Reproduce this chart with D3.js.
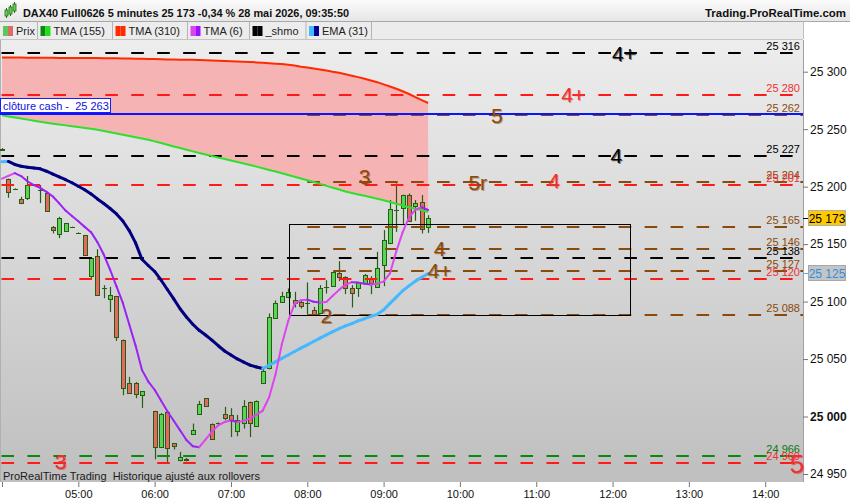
<!DOCTYPE html>
<html><head><meta charset="utf-8">
<script src="https://cdn.jsdelivr.net/npm/d3@7/dist/d3.min.js"></script>
<style>
body{margin:0;background:#fff;}
svg{display:block;font-family:"Liberation Sans",Arial,sans-serif;}
</style>
</head><body>
<svg id="c" width="850" height="500"></svg>
<script>
// ---------------- DATA ----------------
const titleText = "DAX40 Full0626 5 minutes 25 173 -0,34 % 28 mai 2026, 09:35:50";
const siteText = "Trading.ProRealTime.com";
const footText = "ProRealTime Trading  Historique ajusté aux rollovers";
const legendNames = ["Prix", "TMA (155)", "TMA (310)", "TMA (6)", "_shmo", "EMA (31)"];
const firstBar = "04:00";
const barMinutes = 5;
const opens = [25231.6,25206.3,25198.0,25189.2,25190.0,null,25197.4,25194.7,25164.5,25158.7,
  25161.6,25164.8,25159.8,25157.8,25122.1,25139.6,25112.1,25101.9,25104.7,25067.0,
  25029.3,25029.6,25019.1,null,25004.6,24973.5,25004.0,24976.8,24962.0,24963.0,
  24984.6,25002.6,25015.7,24993.9,24994.4,25002.6,25001.1,24987.2,24994.4,25012.7,
  24991.6,25029.6,25041.8,25085.3,25099.8,25104.1,25101.2,25099.8,25098.9,25092.5,
  25089.7,25112.8,25113.4,25124.5,25121.5,25111.4,25111.4,25116.3,25120.0,25112.8,
  25131.7,25151.1,25179.6,25181.1,25192.7,25183.1,25186.8,25164.5];
const highs = [25233.5,25207.0,25198.5,25191.2,25209.2,null,25201.4,25195.0,25165.7,25173.8,
  25168.5,25165.2,25160.2,25158.0,25138.0,25145.6,25114.3,25112.8,25105.0,25067.0,
  25034.5,25030.0,25022.0,null,25005.0,25003.0,25004.5,24977.0,24969.2,24964.0,
  24993.9,25013.6,25016.0,24994.0,24994.8,25008.4,25007.2,25001.4,25014.2,25013.0,
  25014.0,25043.2,25089.7,25101.0,25108.5,25111.4,25108.5,25100.6,25116.7,25095.4,
  25114.3,25118.6,25126.0,25135.2,25122.0,25114.3,25117.0,25124.0,25122.1,25143.3,
  25162.2,25188.3,25202.8,25193.0,25194.0,25188.3,25192.7,25175.2];
const lows = [25231.0,25190.3,25197.5,25184.8,25188.3,null,25185.7,25178.5,25159.3,25155.2,
  25161.0,25164.4,25159.4,25140.0,25120.3,25105.0,25102.9,25091.0,25065.8,25018.5,
  25020.5,25016.0,25007.5,null,24962.8,24973.0,24960.5,24971.3,24961.0,24961.0,
  24984.0,25002.0,25008.5,24980.0,24994.0,24996.7,24982.2,24982.8,24989.5,24982.2,
  24991.0,25029.0,25041.0,25085.0,25099.5,25103.0,25094.9,25094.0,25089.0,25088.2,
  25089.0,25107.0,25113.0,25117.8,25106.5,25094.9,25104.1,25116.0,25106.5,25112.0,
  25113.4,25150.0,25160.7,25166.5,25170.0,25170.3,25159.3,25159.8];
const closes = [25233.0,25195.5,25198.0,25185.7,25201.8,null,25197.4,25179.0,25162.2,25172.6,
  25168.3,25164.8,25159.8,25140.4,25137.8,25105.6,25112.1,25105.6,25069.3,25024.4,
  25020.9,25020.0,25022.0,null,24973.5,25002.0,24973.0,24974.2,24964.8,24962.0,
  24988.7,25010.7,25009.0,24980.8,24994.4,24999.1,24996.7,24997.4,25009.0,24994.4,
  25013.6,25039.4,25086.2,25099.2,25104.7,25108.0,25098.9,25096.0,25098.9,25089.0,
  25111.4,25112.8,25125.4,25121.5,25111.4,25107.6,25116.7,25122.7,25116.3,25128.8,
  25153.5,25180.2,25179.6,25192.7,25170.3,25186.0,25162.8,25173.0];
const tma155 = [25262.0,25261.1,25260.2,25259.3,25258.3,25257.4,25256.5,25255.6,25254.8,25254.0,
  25253.3,25252.5,25251.8,25251.0,25250.3,25249.5,25248.5,25247.4,25246.3,25245.2,
  25244.1,25243.0,25241.9,25240.8,25239.4,25238.0,25236.5,25235.0,25233.6,25232.1,
  25230.7,25229.2,25227.9,25226.6,25225.3,25224.0,25222.7,25221.4,25220.1,25218.8,
  25217.4,25216.0,25214.5,25213.1,25211.7,25210.2,25208.6,25207.1,25205.6,25204.0,
  25202.4,25200.7,25199.1,25197.5,25195.8,25194.5,25193.2,25192.0,25190.7,25189.4,
  25188.1,25186.6,25185.1,25183.6,25182.1,25180.8,25179.4,25178.0];
const tma310 = [25312.4,25312.4,25312.3,25312.3,25312.2,25312.2,25312.1,25312.1,25312.1,25312.0,
  25312.0,25312.0,25312.0,25311.9,25311.9,25311.9,25311.8,25311.7,25311.6,25311.5,
  25311.4,25311.3,25311.2,25311.1,25311.0,25310.8,25310.7,25310.6,25310.5,25310.4,
  25310.3,25310.2,25310.0,25309.8,25309.5,25309.3,25309.1,25308.9,25308.6,25308.4,
  25308.1,25307.8,25307.4,25307.0,25306.6,25306.1,25305.4,25304.4,25303.6,25302.8,
  25301.9,25301.0,25299.9,25299.0,25297.8,25296.5,25295.3,25293.8,25292.3,25290.9,
  25289.0,25287.1,25285.2,25283.0,25280.6,25277.8,25275.2,25272.8];
const tma6 = [25207.0,25209.4,25211.8,25209.2,25204.7,25201.4,25199.0,25195.5,25191.4,25185.4,
  25179.2,25174.4,25169.8,25165.0,25160.4,25151.7,25140.9,25127.7,25113.2,25098.8,
  25080.3,25061.7,25040.6,25030.4,25023.3,25013.9,25004.6,24996.3,24988.0,24979.6,
  24974.1,24973.3,24980.0,24986.8,24992.4,24995.2,24996.6,24995.3,24996.1,24998.4,
  25001.5,25005.2,25016.8,25036.5,25062.8,25083.1,25098.0,25101.2,25101.7,25099.8,
  25099.2,25099.7,25105.0,25110.2,25114.8,25116.9,25116.5,25115.6,25114.8,25115.6,
  25117.4,25124.5,25143.8,25160.4,25173.3,25179.9,25182.1,25179.7];
const ema31 = [25221.6,25221.9,25219.3,25217.8,25216.9,25216.2,25215.5,25213.4,25210.9,25208.4,
  25206.0,25203.4,25200.3,25197.3,25193.7,25189.3,25185.3,25181.0,25176.3,25170.1,
  25161.8,25151.1,25136.8,25131.4,25126.2,25118.8,25110.5,25102.3,25093.8,25086.6,
  25080.3,25075.0,25070.9,25066.4,25061.6,25057.0,25053.5,25050.1,25047.4,25044.7,
  25043.1,25041.8,25044.6,25047.5,25050.6,25053.5,25056.6,25059.5,25062.3,25065.3,
  25068.2,25071.0,25073.9,25076.5,25078.8,25080.9,25083.2,25085.1,25087.1,25088.9,
  25092.8,25098.4,25103.9,25109.4,25113.7,25117.8,25121.2,25124.3];
const cashClose = 25263;
const cashLabel = "clôture cash - ";
const levelPrices = [25316,25280,25262,25227,25204,25201,25165,25146,25138,25127,25120,25088,24966,24960];
const levelKinds  = ["black","red","brown","black","brown","red","brown","brown","black","brown","red","brown","green","red"];
const levelLabels = ["25 316","25 280","25 262","25 227","25 204","25 201","25 165","25 146","25 138","25 127","25 120","25 088","24 966","24 960"];
const brownStart = "08:00";
const markerTexts  = ["4+","4+","5","4","5r","4","3","4","4+","2","3","5"];
const markerKinds  = ["black","red","brown","black","brown","red","brown","brown","brown","brown","red","red"];
const markerPrices = [25316,25280,25262,25227,25204,25205,25208.5,25146,25127,25088,24960.5,24959];
const markerTimes  = ["12:09","11:29","10:29","12:03","10:14","11:14","08:45","09:44","09:44","08:15","04:46","14:25"];
const boxTimes = ["07:46","12:14"];
const boxPrices = [25167.5,25088];
const yTicks = [24950,25000,25050,25100,25150,25200,25250,25300];
const lastPrice = 25173;
const lastEma = 25125;
const axisStart = "04:00", axisEnd = "14:00";

// ---------------- SETUP ----------------
const svg = d3.select("#c");
const T = s => { const [h,m] = s.split(":").map(Number); return new Date(Date.UTC(2026,4,28,h,m)); };
const barTime = i => new Date(T(firstBar).getTime() + i*barMinutes*60000);
const PL = 0, PR = 803, PT = 40, PB = 482;
const x = d3.scaleUtc().domain([T(axisStart), T(axisEnd)]).range([2, 765.2]);
const y = d3.scaleLinear().domain([24950, 25300]).range([474.0, 71.7]);
const fmt = v => d3.format(",")(v).replace(/,/g, " ");
const kindColor = {black:"#000000", red:"#ff1a1a", brown:"#8a4a0c", green:"#0a8a0a"};
const textColor = {black:"#000000", red:"#ee3030", brown:"#8a4a0c", green:"#0a7a0a"};

const defs = svg.append("defs");
const bg = defs.append("linearGradient").attr("id","bg").attr("x1",0).attr("x2",0).attr("y1",0).attr("y2",1);
bg.append("stop").attr("offset","0").attr("stop-color","#ededed");
bg.append("stop").attr("offset","1").attr("stop-color","#bfbfbf");
const hg = defs.append("linearGradient").attr("id","hg").attr("x1",0).attr("x2",0).attr("y1",0).attr("y2",1);
hg.append("stop").attr("offset","0").attr("stop-color","#fbfbfb");
hg.append("stop").attr("offset","1").attr("stop-color","#e6e6e6");
defs.append("clipPath").attr("id","plotclip").append("rect").attr("x",PL).attr("y",PT).attr("width",PR-PL).attr("height",PB-PT);

// header
svg.append("rect").attr("x",0).attr("y",0).attr("width",850).attr("height",21).attr("fill","url(#hg)");
svg.append("line").attr("x1",0).attr("x2",850).attr("y1",21.5).attr("y2",21.5).attr("stroke","#a9a9a9");
svg.append("rect").attr("x",0).attr("y",22).attr("width",PR).attr("height",17).attr("fill","#ececec");
svg.append("line").attr("x1",0).attr("x2",PR).attr("y1",39.5).attr("y2",39.5).attr("stroke","#c4c4c4");
// icon
const icon = svg.append("g");
[[6,10,16],[10,7,14],[14,4,11]].forEach(([cx,t,b])=>{
  icon.append("line").attr("x1",cx+0.5).attr("x2",cx+0.5).attr("y1",t-2).attr("y2",b+2).attr("stroke","#2f6a12");
  icon.append("rect").attr("x",cx-1).attr("y",t).attr("width",3).attr("height",b-t).attr("fill","#5fd25f").attr("stroke","#2f6a12").attr("stroke-width",0.8);
});
svg.append("text").attr("x",23).attr("y",16.5).attr("font-size",11.5).attr("font-weight","bold").attr("fill","#111")
  .attr("textLength",326).attr("lengthAdjust","spacingAndGlyphs").text(titleText);
svg.append("text").attr("x",705).attr("y",16.5).attr("font-size",11.5).attr("font-weight","bold").attr("fill","#111")
  .attr("textLength",141).attr("lengthAdjust","spacingAndGlyphs").text(siteText);
// legend items
const legSw = [["#5cc85c","#e06a6a"],["#0a8a0a","#22dd22"],["#ff2a00","#ff2a00"],["#dd44ee","#9a10ff"],["#000","#000"],["#44bbff","#000099"]];
const legX = [0,37.5,112.5,187.5,249.5,306];
const legEnd = [37.5,112.5,187.5,249.5,306,371.5];
legendNames.forEach((n,i)=>{
  const x0 = legX[i];
  svg.append("rect").attr("x",x0+3).attr("y",26).attr("width",5).attr("height",10).attr("fill",legSw[i][0]);
  svg.append("rect").attr("x",x0+8).attr("y",26).attr("width",5).attr("height",10).attr("fill",legSw[i][1]);
  svg.append("text").attr("x",x0+16).attr("y",35).attr("font-size",11).attr("fill","#222").text(n);
  svg.append("line").attr("x1",legEnd[i]).attr("x2",legEnd[i]).attr("y1",22).attr("y2",39).attr("stroke","#b4b4b4");
});
svg.append("line").attr("x1",PR+0.5).attr("x2",PR+0.5).attr("y1",22).attr("y2",39).attr("stroke","#c0c0c0");

// plot background
svg.append("rect").attr("x",PL).attr("y",PT).attr("width",PR-PL).attr("height",PB-PT).attr("fill","url(#bg)");
svg.append("line").attr("x1",0.5).attr("x2",0.5).attr("y1",PT).attr("y2",PB).attr("stroke","#b0b0b0");
svg.append("line").attr("x1",PR+0.5).attr("x2",PR+0.5).attr("y1",PT).attr("y2",PB).attr("stroke","#a0a0a0");

const plot = svg.append("g").attr("clip-path","url(#plotclip)");
const idx = d3.range(opens.length);

// TMA310 / TMA155 fill
plot.append("path").datum(idx)
  .attr("d", d3.area().x(i=>x(barTime(i))).y0(i=>y(tma155[i])).y1(i=>y(tma310[i])))
  .attr("fill","#f5b0b0").attr("opacity",0.95);

// candles
const bars = idx.filter(i=>opens[i]!=null).map(i=>({i,t:barTime(i),o:opens[i],h:highs[i],l:lows[i],c:closes[i]}));
const cg = plot.append("g");
const cx = d => Math.round(x(d.t));
cg.selectAll("line.w").data(bars).join("line")
  .attr("x1",d=>cx(d)+0.5).attr("x2",d=>cx(d)+0.5)
  .attr("y1",d=>y(d.h)).attr("y2",d=>y(d.l))
  .attr("stroke","#285c12").attr("stroke-width",1.2);
cg.selectAll("rect.b").data(bars).join("rect")
  .attr("x",d=>cx(d)-1.5).attr("width",4)
  .attr("y",d=>Math.round(y(Math.max(d.o,d.c)))+0.5)
  .attr("height",d=>Math.max(0.01,Math.round(y(Math.min(d.o,d.c)))-Math.round(y(Math.max(d.o,d.c)))))
  .attr("fill",d=>d.c>d.o?"#55d655":(d.c<d.o?"#e46a60":"#285c12"))
  .attr("stroke","#285c12").attr("stroke-width",1);

// dashed levels
const period = 25.95, dash = 12.6;
levelPrices.forEach((p,k)=>{
  const kind = levelKinds[k];
  const x0 = kind==="brown" ? x(T(brownStart)) : 0;
  const yy = Math.round(y(p)) ;
  plot.append("line").attr("x1",x0).attr("x2",PR).attr("y1",yy).attr("y2",yy)
    .attr("stroke",kindColor[kind]).attr("stroke-width",2)
    .attr("stroke-dasharray",dash+" "+(period-dash))
    .attr("stroke-dashoffset", kind==="brown" ? 0 : period-1.5);
});

// box
const bx0 = x(T(boxTimes[0])), bx1 = x(T(boxTimes[1]));
plot.append("rect").attr("x",Math.round(bx0)+0.5).attr("y",Math.round(y(boxPrices[0]))+0.5)
  .attr("width",Math.round(bx1-bx0)).attr("height",Math.round(y(boxPrices[1])-y(boxPrices[0])))
  .attr("fill","none").attr("stroke","#000").attr("stroke-width",1);

// moving averages
const line = arr => d3.line().x(i=>x(barTime(i))).y(i=>y(arr[i]));
plot.append("path").datum(idx).attr("d",line(tma310)).attr("fill","none").attr("stroke","#ff2a00").attr("stroke-width",2);
plot.append("path").datum(idx).attr("d",line(tma155)).attr("fill","none").attr("stroke","#2ee02e").attr("stroke-width",2);
// cash close line
const cy = Math.round(y(cashClose));
plot.append("line").attr("x1",0).attr("x2",PR).attr("y1",cy).attr("y2",cy).attr("stroke","#0a14ff").attr("stroke-width",2);

function slopeLine(arr, up, down, w){
  const segs = d3.range(1,arr.length).map(i=>({a:i-1,b:i,up:arr[i]>=arr[i-1]}));
  plot.append("g").selectAll("path").data(segs).join("path")
    .attr("d",s=>line(arr)([s.a,s.b]))
    .attr("fill","none").attr("stroke",s=>s.up?up:down).attr("stroke-width",w).attr("stroke-linecap","round");
}
slopeLine(ema31, "#45b8ff", "#000080", 3);
slopeLine(tma6, "#dd44ee", "#9a22f5", 2);

// cash close label
svg.append("rect").attr("x",0.5).attr("y",98.5).attr("width",110).attr("height",14).attr("fill","#fff").attr("stroke","#1a1aff");
svg.append("text").attr("x",3).attr("y",109.5).attr("font-size",11).attr("fill","#1010e0").attr("xml:space","preserve").text(cashLabel+" "+fmt(cashClose));

// level value labels
levelPrices.forEach((p,k)=>{
  svg.append("text").attr("x",800).attr("y",Math.round(y(p))-3.5).attr("text-anchor","end")
    .attr("font-size",11).attr("fill",textColor[levelKinds[k]]).text(levelLabels[k]);
});

// markers
markerTexts.forEach((t,k)=>{
  const big = k===11;
  const g = svg.append("g").attr("transform",`translate(${x(T(markerTimes[k]))},${y(markerPrices[k])})`);
  const fs = big?26:21;
  g.append("text").attr("x",1).attr("y",1).attr("text-anchor","middle").attr("dominant-baseline","central")
    .attr("font-size",fs).attr("fill",textColor[markerKinds[k]]).attr("opacity",0.55).text(t);
  g.append("text").attr("text-anchor","middle").attr("dominant-baseline","central")
    .attr("font-size",fs).attr("fill",textColor[markerKinds[k]]).text(t);
});

// footer text
svg.append("text").attr("x",3).attr("y",480).attr("font-size",11).attr("fill","#1a1a1a").attr("xml:space","preserve").text(footText);

// right axis
const ya = svg.append("g").attr("transform",`translate(${PR},0)`)
  .call(d3.axisRight(y).tickValues(yTicks).tickSize(5).tickPadding(2).tickFormat(fmt));
ya.select(".domain").remove();
ya.selectAll("line").attr("stroke","#777");
ya.selectAll("text").attr("font-size",12).attr("fill","#111").attr("font-family","Liberation Sans, Arial")
  .attr("font-weight",d=>d===25000?"bold":"normal");

// price boxes
function priceBox(p, fill, stroke, tc, tickc){
  const yy = Math.round(y(p));
  svg.append("line").attr("x1",PR).attr("x2",PR+5).attr("y1",yy+0.5).attr("y2",yy+0.5).attr("stroke",tickc);
  svg.append("rect").attr("x",808.5).attr("y",yy-7.5).attr("width",37).attr("height",15).attr("fill",fill).attr("stroke",stroke);
  svg.append("text").attr("x",827).attr("y",yy+4.5).attr("text-anchor","middle").attr("font-size",12).attr("fill",tc).text(fmt(p));
}
priceBox(lastPrice, "#ffc800", "#b0b0b0", "#000", "#000");
priceBox(lastEma, "#c4c4c4", "#a8a8a8", "#2f8fdf", "#45b8ff");

// time axis
const xa = svg.append("g").attr("transform",`translate(0,${PB})`)
  .call(d3.axisBottom(x).ticks(d3.utcHour.every(1)).tickSize(5).tickPadding(3)
    .tickFormat(d=>d.getUTCHours()===4?"":d3.utcFormat("%H:%M")(d)));
xa.select(".domain").remove();
xa.selectAll("line").attr("stroke","#777");
xa.selectAll("text").attr("font-size",11).attr("fill","#111").attr("font-family","Liberation Sans, Arial");
</script>
</body></html>
